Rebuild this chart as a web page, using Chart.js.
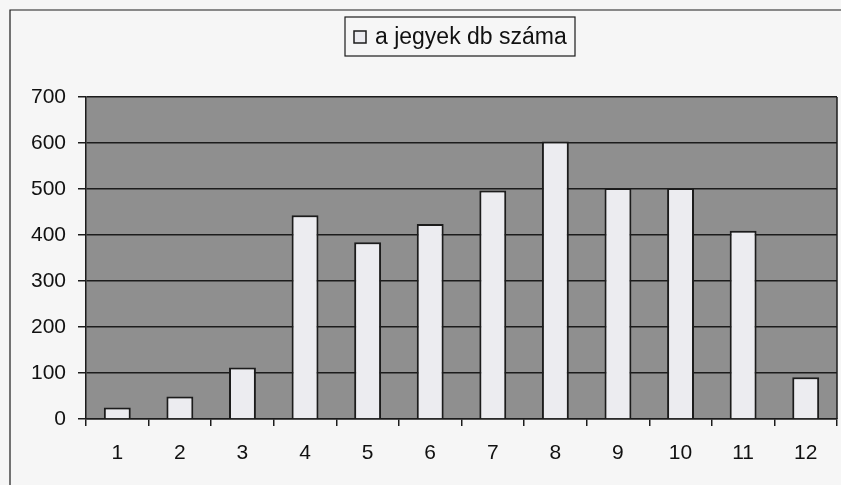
<!DOCTYPE html>
<html>
<head>
<meta charset="utf-8">
<script src="https://cdn.jsdelivr.net/npm/chart.js@4"></script>
<style>
    html, body { margin: 0; padding: 0; background: #f6f6f6; }
    #wrap { width: 841px; height: 485px; }
</style>
</head>
<body>
<div id="wrap"><canvas id="myChart" width="841" height="485"></canvas></div>
<script>
var labels = ['1', '2', '3', '4', '5', '6', '7', '8', '9', '10', '11', '12'];
var jegyek = [25, 49, 112, 443, 384, 424, 497, 603, 502, 502, 409, 91];
var seriesName = 'a jegyek db száma';
var yTicks = [0, 100, 200, 300, 400, 500, 600, 700];

var lineColor = '#1c1c1c';
var font = 'Arial, "Liberation Sans", sans-serif';

// gray plot area, outer frame and boxed legend
var paperPlugin = {
    id: 'paper',
    beforeDraw: function (chart) {
        var ctx = chart.ctx;
        var a = chart.chartArea;
        ctx.save();
        ctx.fillStyle = '#8f8f8f';
        ctx.fillRect(a.left, a.top, a.right - a.left, a.bottom - a.top);
        ctx.restore();
    },
    afterDraw: function (chart) {
        var ctx = chart.ctx;
        var a = chart.chartArea;
        ctx.save();
        ctx.strokeStyle = lineColor;
        ctx.lineWidth = 1.5;
        ctx.beginPath();
        ctx.moveTo(a.right, a.top);
        ctx.lineTo(a.right, a.bottom);
        ctx.stroke();

        // outer frame
        ctx.lineWidth = 1.2;
        ctx.beginPath();
        ctx.moveTo(841, 10);
        ctx.lineTo(10, 10);
        ctx.lineTo(10, 485);
        ctx.stroke();

        // legend
        ctx.fillStyle = '#f6f6f6';
        ctx.fillRect(345, 17, 230, 39);
        ctx.strokeRect(345, 17, 230, 39);
        ctx.fillStyle = '#ececf0';
        ctx.fillRect(354, 31, 12, 12);
        ctx.lineWidth = 1.5;
        ctx.strokeRect(354, 31, 12, 12);
        ctx.fillStyle = '#111';
        ctx.font = '23px ' + font;
        ctx.textBaseline = 'alphabetic';
        ctx.fillText(chart.data.datasets[0].label, 375, 44);
        ctx.restore();
    }
};

new Chart('myChart', {
    type: 'bar',
    data: {
        labels: labels,
        datasets: [{
            label: seriesName,
            data: jegyek,
            backgroundColor: '#ececf0',
            borderColor: lineColor,
            borderWidth: 2,
            borderSkipped: 'bottom',
            categoryPercentage: 1,
            barPercentage: 0.43
        }]
    },
    options: {
        responsive: false,
        animation: false,
        events: [],
        layout: {
            padding: { top: 97, left: 10, right: 4, bottom: 0 }
        },
        plugins: {
            legend: { display: false },
            tooltip: { enabled: false }
        },
        scales: {
            x: {
                afterFit: function (scale) { scale.height = 66; },
                grid: {
                    drawOnChartArea: false,
                    drawTicks: true,
                    tickLength: 7,
                    color: lineColor,
                    lineWidth: 1.5
                },
                border: { color: lineColor, width: 1.5 },
                ticks: {
                    color: '#111',
                    padding: 15,
                    font: { family: font, size: 21 }
                }
            },
            y: {
                min: 0,
                max: 700,
                afterFit: function (scale) { scale.width = 76; },
                afterBuildTicks: function (scale) {
                    scale.ticks = yTicks.map(function (v) { return { value: v }; });
                },
                grid: {
                    color: lineColor,
                    lineWidth: 1.5,
                    tickLength: 8
                },
                border: { color: lineColor, width: 1.5 },
                ticks: {
                    color: '#111',
                    padding: 12,
                    font: { family: font, size: 21 }
                }
            }
        }
    },
    plugins: [paperPlugin]
});
</script>
</body>
</html>
